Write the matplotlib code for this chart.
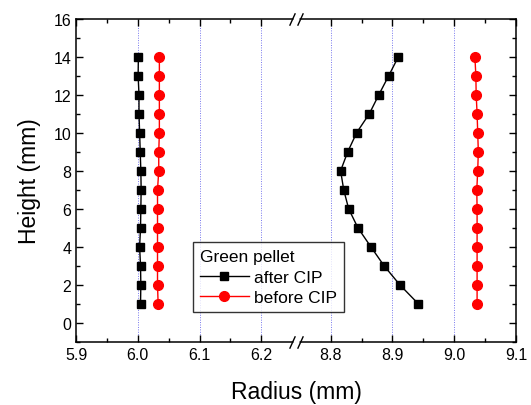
import numpy as np
import matplotlib
matplotlib.use("Agg")
import matplotlib.pyplot as plt
from matplotlib.ticker import FixedLocator, FixedFormatter

plt.rcParams['font.family'] = ['Liberation Sans', 'DejaVu Sans']

heights = [1, 2, 3, 4, 5, 6, 7, 8, 9, 10, 11, 12, 13, 14]
after_inner = [6.0045, 6.005, 6.0045, 6.003, 6.0045, 6.005, 6.0055, 6.005, 6.004, 6.003, 6.002, 6.002, 6.0006, 6.001]
after_outer = [8.942, 8.912, 8.8865, 8.865, 8.844, 8.829, 8.821, 8.816, 8.8276, 8.842, 8.8626, 8.878, 8.894, 8.9097]
before_inner = [6.033, 6.032, 6.032, 6.032, 6.032, 6.032, 6.032, 6.034, 6.034, 6.035, 6.035, 6.035, 6.035, 6.035]
before_outer = [9.037, 9.037, 9.037, 9.037, 9.037, 9.037, 9.0365, 9.038, 9.039, 9.038, 9.037, 9.0355, 9.035, 9.0334]

x_ticks = [5.9, 6.0, 6.1, 6.2, 8.8, 8.9, 9.0, 9.1]
x_tick_labels = ['5.9', '6.0', '6.1', '6.2', '8.8', '8.9', '9.0', '9.1']
x_minor = [5.95, 6.05, 6.15, 8.85, 8.95, 9.05]
grid_x = [6.0, 6.1, 6.2, 8.8, 8.9, 9.0]
y_ticks = [0, 2, 4, 6, 8, 10, 12, 14, 16]

L0, L1, R0, R1 = 5.9, 6.25, 8.75, 9.1
GAP = 0.0125


def fwd(x):
    x = np.asarray(x, dtype=float)
    return np.where(x <= (L1 + R0) / 2, x - L0, (L1 - L0) + GAP + (x - R0))


def inv(u):
    u = np.asarray(u, dtype=float)
    return np.where(u <= (L1 - L0) + GAP / 2, u + L0, u - (L1 - L0) - GAP + R0)


fig = plt.figure(figsize=(5.31, 4.06), dpi=100)
ax = fig.add_axes([76 / 531, 1 - 343 / 406, 440 / 531, 323.5 / 406])
ax.set_xscale('function', functions=(fwd, inv))
ax.set_xlim(L0, R1)
ax.set_ylim(-1, 16)

for gx in grid_x:
    ax.axvline(gx, color='#7777ee', linestyle=(0, (1, 1.5)), linewidth=0.7, zorder=0)

sq = dict(marker='s', color='black', markersize=6.2, linewidth=1.0)
ci = dict(marker='o', color='red', markersize=7, linewidth=1.0)
ax.plot(after_inner, heights, label='after CIP', **sq)
ax.plot(after_outer, heights, **sq)
ax.plot(before_inner, heights, label='before CIP', **ci)
ax.plot(before_outer, heights, **ci)

ax.xaxis.set_major_locator(FixedLocator(x_ticks))
ax.xaxis.set_major_formatter(FixedFormatter(x_tick_labels))
ax.xaxis.set_minor_locator(FixedLocator(x_minor))
ax.set_yticks(y_ticks)
ax.yaxis.set_minor_locator(FixedLocator([y + 1 for y in y_ticks[:-1]] + [-1]))
ax.tick_params(which='both', direction='in', top=True, right=True, labelsize=11.5)
ax.tick_params(which='major', length=5, width=1)
ax.tick_params(which='minor', length=3, width=1)
for s in ax.spines.values():
    s.set_linewidth(1.1)

ax.set_xlabel('Radius (mm)', fontsize=16.5, labelpad=13)
ax.set_ylabel('Height (mm)', fontsize=16.5, labelpad=9)

# axis break marks
trans = ax.get_xaxis_transform()
for yy in (0, 1):
    ax.plot([L1 + 0.002, R0 - 0.002], [yy, yy], transform=trans, color='white',
            linewidth=2.5, clip_on=False, zorder=5, solid_capstyle='butt')
    for bx in (L1, R0):
        ax.plot([bx], [yy], transform=trans, marker=[(-1, -2.2), (1, 2.2)],
                markersize=9, color='black', markeredgewidth=1.0, clip_on=False, zorder=6)

leg = ax.legend(title='Green pellet', loc='lower left', bbox_to_anchor=(0.266, 0.093),
                fontsize=12.5, title_fontsize=12.5, frameon=True, fancybox=False,
                edgecolor='black', handlelength=2.8, borderpad=0.4, labelspacing=0.3,
                handletextpad=0.3, borderaxespad=0)
leg._legend_box.align = 'left'
leg._legend_box.sep = 4
leg.get_frame().set_linewidth(1.0)

fig.savefig('out.png', dpi=100)
